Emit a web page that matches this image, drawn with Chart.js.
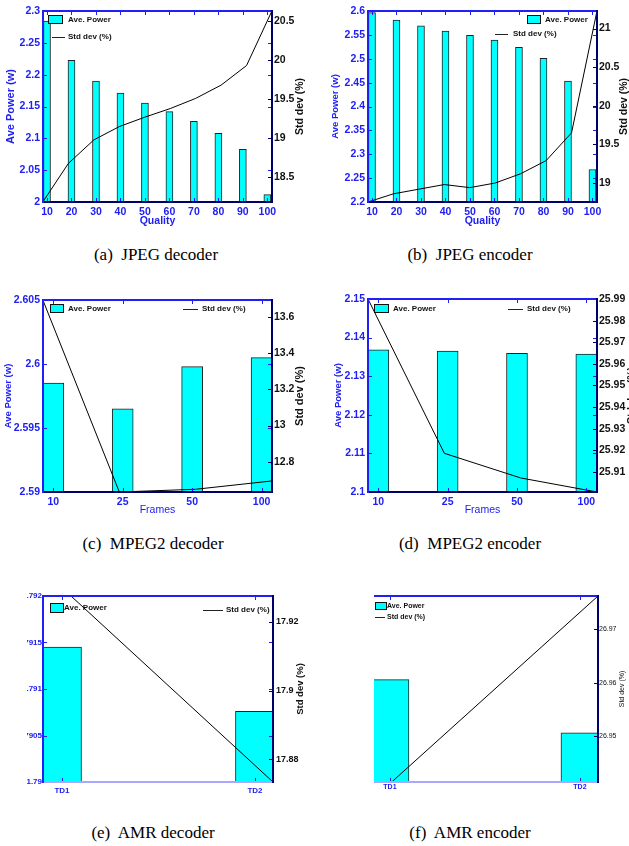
<!DOCTYPE html>
<html>
<head>
<meta charset="utf-8">
<script src="https://cdn.jsdelivr.net/npm/chart.js@4.4.1/dist/chart.umd.min.js"></script>
<style>
html, body { margin: 0; padding: 0; background: #fff; width: 629px; height: 846px; overflow: hidden; position: relative; }
canvas { position: absolute; }
.cap { position: absolute; font-family: "Liberation Serif", "DejaVu Serif", serif; font-size: 17px; line-height: 20px; color: #000; text-align: center; white-space: pre; }
</style>
</head>
<body>
<canvas id="ca" width="314" height="240" style="left:0;top:0"></canvas>
<canvas id="cb" width="315" height="240" style="left:314px;top:0"></canvas>
<canvas id="cc" width="314" height="240" style="left:0;top:285px"></canvas>
<canvas id="cd" width="325" height="240" style="left:314px;top:285px"></canvas>
<canvas id="ce" width="287" height="220" style="left:27px;top:580px"></canvas>
<canvas id="cf" width="255" height="220" style="left:374px;top:580px"></canvas>

<div class="cap" style="left:0;top:245px;width:312px">(a)  JPEG decoder</div>
<div class="cap" style="left:314px;top:245px;width:312px">(b)  JPEG encoder</div>
<div class="cap" style="left:0;top:534px;width:306px">(c)  MPEG2 decoder</div>
<div class="cap" style="left:314px;top:534px;width:312px">(d)  MPEG2 encoder</div>
<div class="cap" style="left:0;top:823px;width:306px">(e)  AMR decoder</div>
<div class="cap" style="left:314px;top:823px;width:312px">(f)  AMR encoder</div>

<script>
// ---- data ----
const qualityLabels = ['10', '20', '30', '40', '50', '60', '70', '80', '90', '100'];
const frameLabels = ['10', '25', '50', '100'];
const amrLabels = ['TD1', 'TD2'];

const jpegDecPower = [2.284, 2.2225, 2.19, 2.171, 2.1555, 2.142, 2.1267, 2.108, 2.0827, 2.0115];
const jpegDecStd = [18.19, 18.68, 18.98, 19.15, 19.27, 19.38, 19.51, 19.68, 19.93, 20.63];
const jpegEncPower = [2.5965, 2.581, 2.569, 2.558, 2.549, 2.539, 2.524, 2.501, 2.453, 2.268];
const jpegEncStd = [18.754, 18.86, 18.92, 18.98, 18.94, 19.0, 19.12, 19.29, 19.65, 21.23];

const mpegDecPower = [2.5985, 2.5965, 2.5998, 2.6005];
const mpegDecStd = [13.69, 12.634, 12.649, 12.695];
const mpegEncPower = [2.1368, 2.1365, 2.1359, 2.1357];
const mpegEncStd = [25.99, 25.9186, 25.9072, 25.9007];

const amrDecPower = [1.79145, 1.79076];
const amrDecStd = [17.935, 17.8734];
const amrEncPower = [1.7911, 1.79053];
const amrEncStd = [26.9413, 26.9763];

// tick labels
const jpegDecPowerTicks = [2, 2.05, 2.1, 2.15, 2.2, 2.25, 2.3];
const jpegDecStdTicks = [18.5, 19, 19.5, 20, 20.5];
const jpegEncPowerTicks = [2.2, 2.25, 2.3, 2.35, 2.4, 2.45, 2.5, 2.55, 2.6];
const jpegEncStdTicks = [19, 19.5, 20, 20.5, 21];
const mpegDecPowerTicks = [2.59, 2.595, 2.6, 2.605];
const mpegDecStdTicks = [12.8, 13, 13.2, 13.4, 13.6];
const mpegEncPowerTicks = [2.1, 2.11, 2.12, 2.13, 2.14, 2.15];
const mpegEncStdTicks = [25.91, 25.92, 25.93, 25.94, 25.95, 25.96, 25.97, 25.98, 25.99];
const amrDecPowerTicks = [1.79, 1.7905, 1.791, 1.7915, 1.792];
const amrDecStdTicks = [17.88, 17.9, 17.92];
const amrEncPowerTicks = [];
const amrEncStdTicks = [26.95, 26.96, 26.97];

// ---- styles ----
const BLUE = '#2020f5';
const NAVY = '#00006a';
const LAVENDER = '#a8a8ff';
const FAM = '"Liberation Sans", Arial, sans-serif';
const fnt = (size, weight) => ({ family: FAM, size: size, weight: weight || 'bold' });

function drawFrame(chart, o) {
  const ctx = chart.ctx;
  const a = chart.chartArea;
  const L = Math.round(a.left), R = Math.round(a.right), T = Math.round(a.top), B = Math.round(a.bottom);
  const sx = chart.scales.x, sy = chart.scales.y, sy2 = chart.scales.y2;
  ctx.save();
  ctx.setLineDash([]);

  // inner tick marks
  ctx.fillStyle = BLUE;
  o.powerTicks.forEach(v => {
    const p = Math.round(sy.getPixelForValue(v));
    if (o.leftAxis !== false) ctx.fillRect(L, p, 4, 1);
    ctx.fillRect(R - 4, p, 4, 1);
  });
  o.labels.forEach((_, i) => {
    const p = Math.round(sx.getPixelForValue(i));
    ctx.fillRect(p, B - 4, 1, 4);
    ctx.fillRect(p, T, 1, 4);
  });
  ctx.fillStyle = NAVY;
  o.stdTicks.forEach(v => {
    const p = Math.round(sy2.getPixelForValue(v));
    ctx.fillRect(R - 4, p, 4, 1);
  });

  // box
  const sp = o.spines;
  if (sp.top) { ctx.fillStyle = sp.top; ctx.fillRect(L - 1, T - 1, R - L + 2, 2); }
  if (sp.bottom) { ctx.fillStyle = sp.bottom; ctx.fillRect(L - 1, B - 1, R - L + 2, 2); }
  if (sp.left) { ctx.fillStyle = sp.left; ctx.fillRect(L - 1, T - 1, 2, B - T + 2); }
  if (sp.right) { ctx.fillStyle = sp.right; ctx.fillRect(R - 1, T - 1, 2, B - T + 2); }

  // legend
  const lg = o.legend;
  ctx.font = lg.font;
  ctx.textBaseline = 'middle';
  ctx.textAlign = 'left';
  ctx.fillStyle = '#00ffff';
  ctx.fillRect(lg.box.x, lg.box.y, lg.box.w, lg.box.h);
  ctx.lineWidth = 1;
  ctx.strokeStyle = '#111';
  ctx.strokeRect(lg.box.x + 0.5, lg.box.y + 0.5, lg.box.w, lg.box.h);
  ctx.fillStyle = '#111';
  ctx.fillText('Ave. Power', lg.box.tx, lg.box.y + lg.box.h / 2 + 0.5);
  ctx.fillStyle = '#222';
  ctx.fillRect(lg.line.x1, lg.line.y, lg.line.x2 - lg.line.x1, 1);
  ctx.fillStyle = '#111';
  ctx.fillText('Std dev (%)', lg.line.tx, lg.line.y);

  // axis titles
  const t = o.titles;
  const cy = (a.top + a.bottom) / 2;
  if (t.left) {
    ctx.save();
    ctx.translate(a.left - t.left.dx, cy);
    ctx.rotate(-Math.PI / 2);
    ctx.font = t.left.font; ctx.fillStyle = BLUE; ctx.textAlign = 'center';
    ctx.fillText('Ave Power (w)', 0, 0);
    ctx.restore();
  }
  if (t.right) {
    ctx.save();
    ctx.translate(a.right + t.right.dx, cy);
    ctx.rotate(-Math.PI / 2);
    ctx.font = t.right.font; ctx.fillStyle = '#111'; ctx.textAlign = 'center';
    ctx.fillText('Std dev (%)', 0, 0);
    ctx.restore();
  }
  if (t.bottom) {
    ctx.font = t.bottom.font; ctx.fillStyle = BLUE; ctx.textAlign = 'center';
    ctx.fillText(t.bottom.text, (a.left + a.right) / 2, a.bottom + t.bottom.dy);
  }
  ctx.restore();
}

function makeChart(id, o) {
  const cv = document.getElementById(id);
  const W = cv.width, H = cv.height;
  const idx = o.labels.map((_, i) => i);
  const setTicks = vals => s => { s.ticks = vals.map(v => ({ value: v })); };

  return new Chart(cv, {
    type: 'bar',
    data: {
      datasets: [
        {
          type: 'line',
          label: 'Std dev (%)',
          data: o.std.map((v, i) => ({ x: i, y: v })),
          xAxisID: 'x2', yAxisID: 'y2',
          borderColor: '#000', borderWidth: 1, pointRadius: 0, tension: 0,
          order: 0
        },
        {
          type: 'bar',
          label: 'Ave. Power',
          data: o.power.map((v, i) => ({ x: i, y: v })),
          xAxisID: 'x', yAxisID: 'y',
          backgroundColor: '#00ffff', borderColor: '#222', borderWidth: 1,
          barThickness: o.barW,
          grouped: false,
          order: 1
        }
      ]
    },
    options: {
      responsive: false,
      animation: false,
      layout: { padding: { top: o.area.top, left: 0, right: 0, bottom: 0 } },
      plugins: { legend: { display: false }, tooltip: { enabled: false } },
      scales: {
        x: {
          type: 'linear', position: 'bottom', min: o.xMin, max: o.xMax, offset: false,
          grid: { display: false, drawTicks: false, offset: false }, border: { display: false },
          afterBuildTicks: setTicks(idx),
          afterFit: s => { s.height = H - o.area.bottom; },
          ticks: { color: BLUE, font: o.xFont, padding: o.xPad, autoSkip: false, maxRotation: 0,
                   callback: v => o.labels[v] }
        },
        x2: { type: 'linear', display: false, offset: false, min: o.x2Min, max: o.x2Max },
        y: {
          type: 'linear', position: 'left', min: o.yMin, max: o.yMax,
          display: o.leftAxis !== false,
          grid: { display: false, drawTicks: false }, border: { display: false },
          afterBuildTicks: setTicks(o.powerTicks),
          afterFit: s => { s.width = o.area.left; },
          ticks: { color: BLUE, font: o.yFont, padding: o.yPad, callback: v => String(v) }
        },
        y2: {
          type: 'linear', position: 'right', min: o.y2Min, max: o.y2Max,
          grid: { display: false, drawTicks: false }, border: { display: false },
          afterBuildTicks: setTicks(o.stdTicks),
          afterFit: s => { s.width = W - o.area.right; },
          ticks: { color: '#111', font: o.y2Font, padding: o.y2Pad, callback: v => String(v) }
        }
      }
    },
    plugins: [{ id: 'frame', afterDraw: chart => drawFrame(chart, o) }]
  });
}

const boxSpines = { top: BLUE, left: BLUE, right: NAVY, bottom: NAVY };

// (a) JPEG decoder
makeChart('ca', {
  labels: qualityLabels, power: jpegDecPower, std: jpegDecStd,
  powerTicks: jpegDecPowerTicks, stdTicks: jpegDecStdTicks,
  area: { left: 43, right: 272, top: 11, bottom: 202 },
  xMin: -0.164, xMax: 9.19, x2Min: 0, x2Max: 9,
  yMin: 2, yMax: 2.3, y2Min: 18.186, y2Max: 20.627,
  barW: 7,
  xFont: fnt(10.5), xPad: 4, yFont: fnt(10.5), yPad: 3, y2Font: fnt(10.5), y2Pad: 2,
  spines: boxSpines,
  legend: { font: 'bold 8px ' + FAM,
            box: { x: 48, y: 15, w: 14, h: 8, tx: 68 },
            line: { x1: 52, x2: 65, y: 37, tx: 68 } },
  titles: { left: { dx: 32, font: 'bold 11px ' + FAM },
            right: { dx: 28, font: 'bold 10.5px ' + FAM },
            bottom: { text: 'Quality', dy: 19, font: 'bold 10.5px ' + FAM } }
});

// (b) JPEG encoder
makeChart('cb', {
  labels: qualityLabels, power: jpegEncPower, std: jpegEncStd,
  powerTicks: jpegEncPowerTicks, stdTicks: jpegEncStdTicks,
  area: { left: 54, right: 283, top: 11, bottom: 202 },
  xMin: -0.163, xMax: 9.185, x2Min: 0, x2Max: 9,
  yMin: 2.2, yMax: 2.6, y2Min: 18.754, y2Max: 21.228,
  barW: 7,
  xFont: fnt(10.5), xPad: 4, yFont: fnt(10.5), yPad: 3, y2Font: fnt(10.5), y2Pad: 2,
  spines: boxSpines,
  legend: { font: 'bold 8px ' + FAM,
            box: { x: 213, y: 15, w: 13, h: 8, tx: 231 },
            line: { x1: 181, x2: 194, y: 34, tx: 199 } },
  titles: { left: { dx: 33, font: 'bold 9.5px ' + FAM },
            right: { dx: 27, font: 'bold 10.5px ' + FAM },
            bottom: { text: 'Quality', dy: 19, font: 'bold 10.5px ' + FAM } }
});

// (c) MPEG2 decoder
makeChart('cc', {
  labels: frameLabels, power: mpegDecPower, std: mpegDecStd,
  powerTicks: mpegDecPowerTicks, stdTicks: mpegDecStdTicks,
  area: { left: 43, right: 272, top: 15, bottom: 207 },
  xMin: -0.148, xMax: 3.15, x2Min: 0, x2Max: 3,
  yMin: 2.59, yMax: 2.605, y2Min: 12.634, y2Max: 13.692,
  barW: 21,
  xFont: fnt(10.5), xPad: 4, yFont: fnt(10.5), yPad: 3, y2Font: fnt(10.5), y2Pad: 2,
  spines: boxSpines,
  legend: { font: 'bold 8px ' + FAM,
            box: { x: 50, y: 19, w: 13, h: 8, tx: 68 },
            line: { x1: 183, x2: 198, y: 24, tx: 202 } },
  titles: { left: { dx: 35, font: 'bold 9.5px ' + FAM },
            right: { dx: 28, font: 'bold 11px ' + FAM },
            bottom: { text: 'Frames', dy: 18, font: '10.5px ' + FAM } }
});

// (d) MPEG2 encoder
makeChart('cd', {
  labels: frameLabels, power: mpegEncPower, std: mpegEncStd,
  powerTicks: mpegEncPowerTicks, stdTicks: mpegEncStdTicks,
  area: { left: 54, right: 283, top: 14, bottom: 207 },
  xMin: -0.149, xMax: 3.154, x2Min: 0, x2Max: 3,
  yMin: 2.1, yMax: 2.15, y2Min: 25.9007, y2Max: 25.99,
  barW: 21,
  xFont: fnt(10.5), xPad: 4, yFont: fnt(10.5), yPad: 3, y2Font: fnt(10.5), y2Pad: 2,
  spines: boxSpines,
  legend: { font: 'bold 8px ' + FAM,
            box: { x: 60, y: 19, w: 14, h: 8, tx: 79 },
            line: { x1: 194, x2: 209, y: 24, tx: 213 } },
  titles: { left: { dx: 30, font: 'bold 9.5px ' + FAM },
            right: { dx: 35, font: 'bold 10.5px ' + FAM },
            bottom: { text: 'Frames', dy: 18, font: '10.5px ' + FAM } }
});

// (e) AMR decoder
makeChart('ce', {
  labels: amrLabels, power: amrDecPower, std: amrDecStd,
  powerTicks: amrDecPowerTicks, stdTicks: amrDecStdTicks,
  area: { left: 16, right: 246, top: 16, bottom: 202 },
  xMin: -0.0985, xMax: 1.0935, x2Min: 0, x2Max: 1,
  yMin: 1.79, yMax: 1.792, y2Min: 17.8734, y2Max: 17.9275,
  barW: 39,
  xFont: fnt(8), xPad: 4, yFont: fnt(8), yPad: 1, y2Font: fnt(9), y2Pad: 3,
  spines: { top: BLUE, left: BLUE, right: NAVY, bottom: LAVENDER },
  legend: { font: 'bold 8px ' + FAM,
            box: { x: 23, y: 23, w: 13, h: 9, tx: 37 },
            line: { x1: 176, x2: 196, y: 30, tx: 199 } },
  titles: { right: { dx: 27, font: 'bold 9.5px ' + FAM } }
});

// (f) AMR encoder
makeChart('cf', {
  labels: amrLabels, power: amrEncPower, std: amrEncStd,
  powerTicks: amrEncPowerTicks, stdTicks: amrEncStdTicks,
  leftAxis: false,
  area: { left: 0, right: 224, top: 16, bottom: 202 },
  xMin: -0.084, xMax: 1.095, x2Min: -0.086, x2Max: 1,
  yMin: 1.79, yMax: 1.792, y2Min: 26.9413, y2Max: 26.9763,
  barW: 38,
  xFont: fnt(7), xPad: 1, yFont: fnt(7), yPad: 1, y2Font: fnt(7, 'normal'), y2Pad: 1,
  spines: { top: BLUE, left: null, right: NAVY, bottom: LAVENDER },
  legend: { font: 'bold 7px ' + FAM,
            box: { x: 1, y: 22, w: 11, h: 7, tx: 13 },
            line: { x1: 1, x2: 11, y: 37, tx: 13 } },
  titles: { right: { dx: 24, font: '7px ' + FAM } }
});
</script>
</body>
</html>
